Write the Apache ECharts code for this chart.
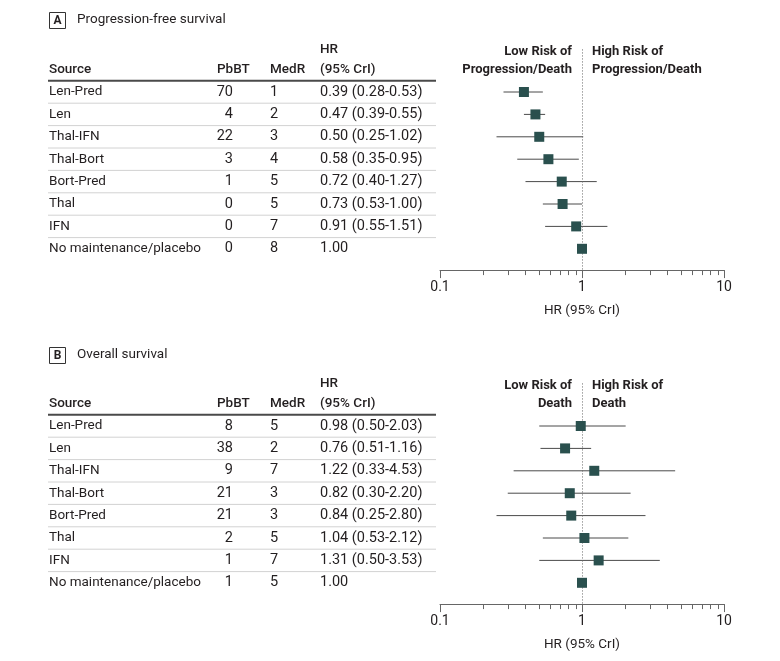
<!DOCTYPE html>
<html>
<head>
<meta charset="utf-8">
<script src="https://cdn.jsdelivr.net/npm/echarts@6/dist/echarts.min.js"></script>
<style>
html,body{margin:0;padding:0;background:#fff;}
#main{width:780px;height:661px;}
</style>
</head>
<body>
<div id="main"></div>
<script>
// ---------- DATA ----------
var sources = ["Len-Pred", "Len", "Thal-IFN", "Thal-Bort", "Bort-Pred", "Thal", "IFN", "No maintenance/placebo"];

var pfsPbBT = [70, 4, 22, 3, 1, 0, 0, 0];
var pfsMedR = [1, 2, 3, 4, 5, 5, 7, 8];
var pfsHR   = [0.39, 0.47, 0.50, 0.58, 0.72, 0.73, 0.91, 1.00];
var pfsLo   = [0.28, 0.39, 0.25, 0.35, 0.40, 0.53, 0.55, null];
var pfsHi   = [0.53, 0.55, 1.02, 0.95, 1.27, 1.00, 1.51, null];

var osPbBT = [8, 38, 9, 21, 21, 2, 1, 1];
var osMedR = [5, 2, 7, 3, 3, 5, 7, 5];
var osHR   = [0.98, 0.76, 1.22, 0.82, 0.84, 1.04, 1.31, 1.00];
var osLo   = [0.50, 0.51, 0.33, 0.30, 0.25, 0.53, 0.50, null];
var osHi   = [2.03, 1.16, 4.53, 2.20, 2.80, 2.12, 3.53, null];

var axisTickLabels = [0.1, 1, 10];
var minorTickValues = [0.2, 0.3, 0.4, 0.5, 0.6, 0.7, 0.8, 0.9, 2, 3, 4, 5, 6, 7, 8, 9];

// ---------- LAYOUT ----------
var FONT = 'Roboto, "Noto Sans", sans-serif';
var TXT = '#231f20';
var MARK = '#2a504e';
var ROW = 22.4;
var YMIN = -1.9, YMAX = 7.95;
var TABLE_LEFT = 48, TABLE_W = 388;
var PLOT_LEFT = 440, PLOT_W = 284;
var COL = { source: 1, pbbtHead: 169, pbbt: 185, medr: 222, hr: 272 };
var TXT_SIZE = 13.5, NUM_SIZE = 14.5;

function fmtHR(h, lo, hi) {
  if (lo == null) return h.toFixed(2);
  return h.toFixed(2) + ' (' + lo.toFixed(2) + '-' + hi.toFixed(2) + ')';
}

function textSeries(xi, cells) {
  return {
    type: 'custom', xAxisIndex: xi, yAxisIndex: xi, silent: true, clip: false,
    data: cells.map(function (c) { return [c.x, c.y]; }),
    renderItem: function (params, api) {
      var c = cells[params.dataIndex];
      var p = api.coord([api.value(0), api.value(1)]);
      return {
        type: 'text', x: p[0] + (c.dx || 0), y: p[1],
        style: {
          text: c.text, align: c.align || 'left', verticalAlign: 'middle',
          font: (c.weight || 'normal') + ' ' + (c.size || TXT_SIZE) + 'px ' + FONT,
          fill: TXT
        }
      };
    }
  };
}

function tableCells(pb, md, hr, lo, hi) {
  var cells = [
    { x: COL.source, y: -1.0, text: 'Source', weight: 500 },
    { x: COL.pbbtHead, y: -1.0, text: 'PbBT', weight: 500 },
    { x: COL.medr, y: -1.0, text: 'MedR', weight: 500 },
    { x: COL.hr, y: -1.0, text: '(95% CrI)', weight: 500 },
    { x: COL.hr, y: -1.9, text: 'HR', weight: 500 }
  ];
  for (var i = 0; i < sources.length; i++) {
    cells.push({ x: COL.source, y: i, text: sources[i] });
    cells.push({ x: COL.pbbt, y: i, text: String(pb[i]), align: 'right', size: NUM_SIZE });
    cells.push({ x: COL.medr, y: i, text: String(md[i]), size: NUM_SIZE });
    cells.push({ x: COL.hr, y: i, text: fmtHR(hr[i], lo[i], hi[i]), size: NUM_SIZE });
  }
  return cells;
}

function tableLines(xi) {
  var lines = [{ y: -0.5, w: 2, c: '#4a4a4a' }];
  for (var i = 0; i < sources.length - 1; i++) lines.push({ y: i + 0.5, w: 1, c: '#d2d2d2' });
  return {
    type: 'custom', xAxisIndex: xi, yAxisIndex: xi, silent: true, clip: false,
    data: lines.map(function (l) { return [0, l.y]; }),
    renderItem: function (params, api) {
      var l = lines[params.dataIndex];
      var a = api.coord([0, l.y]);
      var b = api.coord([TABLE_W, l.y]);
      return { type: 'line', shape: { x1: a[0], y1: a[1], x2: b[0], y2: b[1] },
        style: { stroke: l.c, lineWidth: l.w } };
    }
  };
}

function ciSeries(xi, lo, hi) {
  var items = [];
  for (var i = 0; i < lo.length; i++) if (lo[i] != null) items.push([lo[i], hi[i], i]);
  return {
    type: 'custom', xAxisIndex: xi, yAxisIndex: xi, silent: true, clip: false,
    data: items,
    encode: { x: [0, 1], y: 2 },
    renderItem: function (params, api) {
      var a = api.coord([api.value(0), api.value(2)]);
      var b = api.coord([api.value(1), api.value(2)]);
      return { type: 'line', shape: { x1: a[0], y1: a[1], x2: b[0], y2: b[1] },
        style: { stroke: '#4a4a4a', lineWidth: 1 } };
    }
  };
}

function minorTickSeries(xi) {
  return {
    type: 'custom', xAxisIndex: xi, yAxisIndex: xi, silent: true, clip: false,
    data: minorTickValues.map(function (v) { return [v, YMAX]; }),
    renderItem: function (params, api) {
      var p = api.coord([api.value(0), api.value(1)]);
      var x = Math.round(p[0]) + 0.5;
      return { type: 'line', shape: { x1: x, y1: p[1], x2: x, y2: p[1] + 5 },
        style: { stroke: '#666', lineWidth: 1 } };
    }
  };
}

function pointSeries(xi, hr) {
  return {
    type: 'scatter', xAxisIndex: xi, yAxisIndex: xi, silent: true,
    symbol: 'rect', symbolSize: 10, z: 5,
    itemStyle: { color: MARK, opacity: 1 },
    data: hr.map(function (h, i) { return [h, i]; }),
    markLine: {
      silent: true, symbol: 'none', label: { show: false },
      lineStyle: { type: [1, 2], color: '#666', width: 1 },
      data: [{ xAxis: 1 }]
    }
  };
}

function riskLabels(xi, l1a, l2a, l1b, l2b) {
  return textSeries(xi, [
    { x: 1, y: -1.8, text: l1a, weight: 'bold', align: 'right', dx: -10, size: 13 },
    { x: 1, y: -1.0, text: l2a, weight: 'bold', align: 'right', dx: -10, size: 13 },
    { x: 1, y: -1.8, text: l1b, weight: 'bold', align: 'left', dx: 10, size: 13 },
    { x: 1, y: -1.0, text: l2b, weight: 'bold', align: 'left', dx: 10, size: 13 }
  ]);
}

var rowA0 = 92, rowB0 = 426;
var topA = rowA0 + YMIN * ROW, topB = rowB0 + YMIN * ROW;
var gridH = (YMAX - YMIN) * ROW;

function tableX() { return { type: 'value', min: 0, max: TABLE_W, show: false }; }
function plotX() {
  return {
    type: 'log', logBase: 10, min: 0.1, max: 10,
    axisLine: { show: true, onZero: false, lineStyle: { color: '#666', width: 1 } },
    axisTick: { show: true, length: 8, lineStyle: { color: '#666', width: 1 } },
    axisLabel: { color: TXT, fontSize: 14, fontFamily: FONT, margin: 10,
      formatter: function (v) { return axisTickLabels.indexOf(+v) >= 0 ? String(+v) : ''; } },
    splitLine: { show: false },
    name: 'HR (95% CrI)', nameLocation: 'middle', nameGap: 34,
    nameTextStyle: { color: TXT, fontSize: 13.5, fontFamily: FONT }
  };
}
function yAx() { return { type: 'value', min: YMIN, max: YMAX, inverse: true, show: false }; }

var chart = echarts.init(document.getElementById('main'), null, { renderer: 'canvas' });
chart.setOption({
  backgroundColor: '#fff',
  animation: false,
  grid: [
    { left: TABLE_LEFT, top: topA, width: TABLE_W, height: gridH },
    { left: PLOT_LEFT, top: topA, width: PLOT_W, height: gridH },
    { left: TABLE_LEFT, top: topB, width: TABLE_W, height: gridH },
    { left: PLOT_LEFT, top: topB, width: PLOT_W, height: gridH }
  ],
  xAxis: [
    Object.assign(tableX(), { gridIndex: 0 }),
    Object.assign(plotX(), { gridIndex: 1 }),
    Object.assign(tableX(), { gridIndex: 2 }),
    Object.assign(plotX(), { gridIndex: 3 })
  ],
  yAxis: [
    Object.assign(yAx(), { gridIndex: 0 }),
    Object.assign(yAx(), { gridIndex: 1 }),
    Object.assign(yAx(), { gridIndex: 2 }),
    Object.assign(yAx(), { gridIndex: 3 })
  ],
  graphic: [
    { type: 'rect', shape: { x: 49.5, y: 12.5, width: 16, height: 16 }, style: { fill: '#fff', stroke: '#333', lineWidth: 1 } },
    { type: 'text', x: 57.5, y: 21, style: { text: 'A', font: 'bold 12px ' + FONT, fill: TXT, align: 'center', verticalAlign: 'middle' } },
    { type: 'text', x: 77, y: 20, style: { text: 'Progression-free survival', font: '13.5px ' + FONT, fill: TXT, align: 'left', verticalAlign: 'middle' } },
    { type: 'rect', shape: { x: 49.5, y: 347.5, width: 16, height: 16 }, style: { fill: '#fff', stroke: '#333', lineWidth: 1 } },
    { type: 'text', x: 57.5, y: 356, style: { text: 'B', font: 'bold 12px ' + FONT, fill: TXT, align: 'center', verticalAlign: 'middle' } },
    { type: 'text', x: 77, y: 355, style: { text: 'Overall survival', font: '13.5px ' + FONT, fill: TXT, align: 'left', verticalAlign: 'middle' } }
  ],
  series: [
    tableLines(0),
    textSeries(0, tableCells(pfsPbBT, pfsMedR, pfsHR, pfsLo, pfsHi)),
    ciSeries(1, pfsLo, pfsHi),
    minorTickSeries(1),
    pointSeries(1, pfsHR),
    riskLabels(1, 'Low Risk of', 'Progression/Death', 'High Risk of', 'Progression/Death'),
    tableLines(2),
    textSeries(2, tableCells(osPbBT, osMedR, osHR, osLo, osHi)),
    ciSeries(3, osLo, osHi),
    minorTickSeries(3),
    pointSeries(3, osHR),
    riskLabels(3, 'Low Risk of', 'Death', 'High Risk of', 'Death')
  ]
});
</script>
</body>
</html>
